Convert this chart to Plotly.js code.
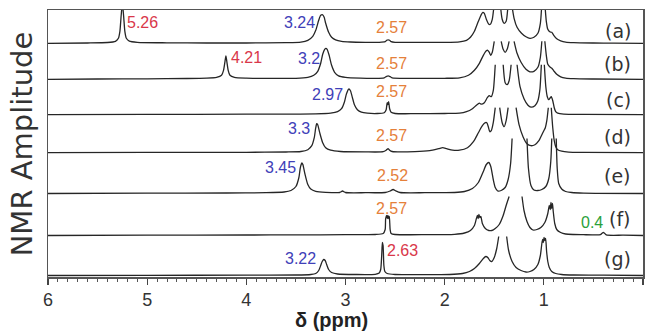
<!DOCTYPE html>
<html>
<head>
<meta charset="utf-8">
<script src="https://cdn.plot.ly/plotly-3.0.1.min.js"></script>
<style>html,body{margin:0;padding:0;background:#fff;}#chart{width:648px;height:333px;}</style>
</head>
<body>
<div id="chart"></div>
<script>
// Spectra: [chemical shift (ppm), amplitude above own baseline]; null = clipped peak top
const specA = [[6,0],[5.6,0.3],[5.4,0.8],[5.32,2],[5.29,5],[5.275,12],[5.262,28],[5.25,40],[5.238,28],[5.225,12],[5.21,5],[5.18,2.2],[5.1,1],[4.8,0.5],[4.4,0.3],[4.0,0.3],[3.6,0.6],[3.45,1.2],[3.38,3],[3.33,7],[3.30,13],[3.27,23],[3.25,28],[3.23,28.5],[3.215,26],[3.20,20],[3.17,11],[3.14,6],[3.10,3.5],[3.04,2],[2.95,1.3],[2.8,1],[2.66,1],[2.60,1.6],[2.585,3],[2.57,3.5],[2.555,3],[2.54,1.6],[2.5,1],[2.3,1],[2.0,1],[1.85,1.5],[1.78,3],[1.74,6],[1.70,12],[1.66,22],[1.63,29],[1.615,31],[1.60,30],[1.58,24],[1.555,19],[1.54,19],[1.52,24],[1.50,40],[1.47,null],[1.44,40],[1.42,24],[1.40,20],[1.38,22],[1.36,40],[1.345,null],[1.325,40],[1.30,25],[1.27,16],[1.225,10],[1.18,6.5],[1.14,5],[1.10,6],[1.06,10],[1.035,20],[1.02,40],[1.005,null],[0.99,40],[0.975,22],[0.96,14],[0.94,11.5],[0.92,11],[0.90,8],[0.87,4.5],[0.83,2.5],[0.78,1.2],[0.7,0.6],[0.5,0.3],[0.3,0.2],[0,0]];
const specB = [[6,0],[5.5,0.3],[5.0,0.5],[4.6,0.8],[4.4,1.2],[4.3,2],[4.25,4],[4.23,9],[4.215,18],[4.206,23.5],[4.197,18],[4.183,9],[4.165,4],[4.12,2],[4.0,1.2],[3.8,0.9],[3.5,1],[3.38,2],[3.32,4],[3.28,8],[3.25,16],[3.23,25],[3.21,30],[3.197,31],[3.185,30],[3.165,24],[3.14,14],[3.11,7],[3.07,3.5],[3.0,2],[2.85,1.2],[2.7,1],[2.61,1.5],[2.585,3],[2.57,3.5],[2.555,3],[2.53,1.4],[2.3,1],[2.0,1],[1.85,1.5],[1.76,4],[1.70,9],[1.65,16],[1.61,24],[1.58,28.5],[1.565,29],[1.55,27],[1.535,24],[1.52,27],[1.50,38],[1.465,null],[1.43,38],[1.41,30],[1.39,27],[1.37,30],[1.35,38],[1.325,null],[1.30,38],[1.27,26],[1.23,17],[1.18,10],[1.14,7.5],[1.10,8],[1.06,12],[1.035,22],[1.02,38],[1.005,null],[0.99,38],[0.975,24],[0.96,15],[0.935,12],[0.92,11],[0.90,8.5],[0.87,5],[0.83,2.5],[0.78,1.2],[0.7,0.6],[0.5,0.3],[0,0]];
const specC = [[6,0],[5,0.3],[4,0.5],[3.6,0.6],[3.3,0.8],[3.15,1.5],[3.08,3],[3.04,6],[3.01,13],[2.99,21],[2.966,25.7],[2.95,24],[2.93,17],[2.91,10],[2.88,5],[2.84,2.5],[2.78,1.5],[2.68,1.2],[2.61,2],[2.59,5],[2.58,12],[2.572,10],[2.565,13],[2.555,6],[2.54,2.5],[2.5,1.2],[2.3,1],[2.0,1.2],[1.85,1.5],[1.78,3],[1.72,6],[1.68,9.5],[1.65,11.5],[1.63,10.5],[1.60,12],[1.57,17],[1.55,19],[1.53,18],[1.51,24],[1.49,50],[1.45,null],[1.41,50],[1.39,32],[1.37,30],[1.35,34],[1.33,50],[1.30,null],[1.27,50],[1.24,28],[1.20,16],[1.16,9.5],[1.13,7.5],[1.09,9],[1.06,14],[1.04,25],[1.025,50],[1.01,null],[0.995,50],[0.98,28],[0.965,18],[0.95,15],[0.935,17],[0.925,18],[0.91,14],[0.895,7],[0.88,3],[0.86,1.5],[0.8,0.6],[0.6,0.3],[0,0]];
const specD = [[6,0],[5,0.3],[4,0.4],[3.6,0.7],[3.45,1.2],[3.38,3],[3.34,7],[3.315,15],[3.30,25],[3.29,29],[3.28,28],[3.26,20],[3.23,10],[3.20,5],[3.15,2.5],[3.05,1.2],[2.8,0.8],[2.62,1],[2.59,2.5],[2.57,4],[2.555,2.5],[2.53,1.2],[2.3,1],[2.15,2],[2.06,4],[2.02,5],[1.98,4],[1.92,2.5],[1.85,2.5],[1.77,5],[1.71,11],[1.66,20],[1.62,27],[1.59,30],[1.575,30],[1.56,26],[1.545,21],[1.53,22],[1.51,30],[1.49,45],[1.47,null],[1.445,45],[1.42,30],[1.40,26],[1.38,32],[1.36,45],[1.32,null],[1.28,45],[1.25,28],[1.21,16],[1.17,9],[1.13,7],[1.09,8],[1.05,12],[1.02,18],[1.0,22],[0.985,25],[0.97,32],[0.955,45],[0.94,null],[0.925,45],[0.91,25],[0.895,12],[0.88,6],[0.86,3],[0.82,1.5],[0.75,0.6],[0.6,0.3],[0,0]];
const specE = [[6,0],[5,0.3],[4.2,0.5],[3.8,0.8],[3.62,1.5],[3.55,3],[3.5,7],[3.47,16],[3.455,26],[3.44,30.5],[3.43,29],[3.41,20],[3.38,9],[3.35,4.5],[3.30,2.2],[3.20,1.2],[3.06,1],[3.03,2.5],[3.0,1],[2.8,0.8],[2.6,1],[2.55,2.5],[2.52,4],[2.49,2.5],[2.45,1],[2.2,0.8],[1.9,1],[1.8,2],[1.72,5],[1.66,11],[1.61,22],[1.58,29],[1.555,31],[1.535,27],[1.51,14],[1.49,6],[1.465,2.5],[1.43,3],[1.39,6],[1.36,14],[1.335,30],[1.32,55],[1.25,null],[1.17,55],[1.155,25],[1.13,8],[1.10,3.5],[1.06,3],[1.02,4],[0.98,7],[0.95,15],[0.93,32],[0.92,55],[0.9,null],[0.875,55],[0.865,25],[0.85,10],[0.82,4.5],[0.78,2],[0.72,1],[0.6,0.4],[0,0]];
const specF = [[6,0],[5,0.3],[4,0.5],[3.5,0.6],[3.0,0.8],[2.7,1],[2.62,2],[2.60,6],[2.595,17],[2.585,20],[2.578,17],[2.572,20],[2.565,17],[2.558,19],[2.55,6],[2.54,2],[2.5,1],[2.2,0.8],[1.9,1.2],[1.8,2.5],[1.74,5],[1.70,10],[1.68,17],[1.67,20],[1.662,17],[1.655,21],[1.645,18],[1.635,19],[1.62,12],[1.59,7],[1.555,5],[1.525,5],[1.49,7],[1.45,11],[1.41,20],[1.38,30],[1.35,39],[1.28,null],[1.22,39],[1.20,25],[1.17,14],[1.14,8],[1.11,5.5],[1.07,6],[1.03,8],[0.99,13],[0.96,22],[0.945,30],[0.935,26],[0.928,33],[0.92,27],[0.913,32],[0.905,24],[0.89,12],[0.87,6],[0.83,3],[0.78,1.5],[0.7,1],[0.6,0.8],[0.5,0.6],[0.43,0.8],[0.41,2.5],[0.40,3],[0.39,2.5],[0.37,0.6],[0.2,0.3],[0,0]];
const specG = [[6,0],[5,0.2],[4,0.3],[3.5,0.5],[3.35,1],[3.30,2],[3.27,5],[3.25,10],[3.235,14],[3.22,16],[3.205,15],[3.19,11],[3.17,6],[3.14,3],[3.08,1.5],[2.9,1],[2.7,1.2],[2.66,2.5],[2.645,6],[2.635,20],[2.628,33],[2.621,30],[2.613,10],[2.603,4],[2.58,2],[2.5,1],[2.2,0.8],[1.95,1],[1.82,2],[1.75,4],[1.70,7],[1.65,12],[1.61,17],[1.585,19],[1.565,18],[1.545,15],[1.525,14],[1.50,18],[1.475,27],[1.455,39],[1.41,null],[1.375,39],[1.355,25],[1.32,14],[1.28,8],[1.23,5],[1.18,3.5],[1.14,4],[1.10,6],[1.06,11],[1.035,20],[1.02,32],[1.012,36],[1.005,33],[0.998,38],[0.99,35],[0.982,37],[0.972,24],[0.96,14],[0.945,8],[0.92,4],[0.88,2],[0.82,1],[0.7,0.5],[0.4,0.3],[0,0]];

const spectra = [specA, specB, specC, specD, specE, specF, specG];
const traceLabels = ['(a)', '(b)', '(c)', '(d)', '(e)', '(f)', '(g)'];
const xTickVals = [6, 5, 4, 3, 2, 1, 0];

// peak labels: text, colour key
const peakText  = ['5.26','3.24','2.57','4.21','3.2','2.57','2.97','2.57','3.3','2.57','3.45','2.52','2.57','0.4','3.22','2.63'];
const peakColor = ['r','b','o','r','b','o','b','o','b','o','b','o','o','g','b','r'];

// ---- layout / positions (not data) ----
const baselines = [233.7, 197.7, 162.3, 124.3, 83.5, 41.5, 1.5];
const labelY = [246, 213, 177, 140, 101, 58, 18];
const peakPos = [ // [x ppm, y, xanchor]
  [5.22,255,'left'],[3.287,254.5,'right'],[2.541,250,'center'],
  [4.175,220,'left'],[3.237,219,'right'],[2.541,214,'center'],
  [3.005,183,'right'],[2.541,186,'center'],
  [3.338,149,'right'],[2.541,142,'center'],
  [3.479,110,'right'],[2.526,102,'center'],
  [2.541,69,'center'],[0.383,55,'right'],
  [3.277,19,'right'],[2.602,27,'left']
];
const colorMap = {r:'#d9374a', b:'#4040b8', o:'#e5803a', g:'#2aa03a'};

const traces = spectra.map((s, i) => ({
  x: s.map(p => p[0]),
  y: s.map(p => p[1] === null ? null : p[1] + baselines[i]),
  type: 'scatter', mode: 'lines',
  line: {color: '#262626', width: 1.3, shape: 'spline', smoothing: 0.6},
  connectgaps: false, hoverinfo: 'skip', showlegend: false
}));

const annotations = [];
traceLabels.forEach((t, i) => annotations.push({
  x: 0.1, y: labelY[i], xref: 'x', yref: 'y', text: t, showarrow: false,
  xanchor: 'right', yanchor: 'middle',
  font: {family: 'DejaVu Sans', size: 19, color: '#333'}
}));
peakText.forEach((t, i) => annotations.push({
  x: peakPos[i][0], y: peakPos[i][1], xref: 'x', yref: 'y', text: t, showarrow: false,
  xanchor: peakPos[i][2], yanchor: 'middle',
  font: {family: 'Liberation Sans', size: 16, color: colorMap[peakColor[i]]}
}));
annotations.push({
  x: -0.044, y: 0.5, xref: 'paper', yref: 'paper', text: 'NMR Amplitude', showarrow: false,
  textangle: -90, xanchor: 'center', yanchor: 'middle',
  font: {family: 'DejaVu Sans', size: 29, color: '#333'}
});
annotations.push({
  x: 0.476, y: -0.161, xref: 'paper', yref: 'paper', text: 'δ (ppm)', showarrow: false,
  xanchor: 'center', yanchor: 'middle',
  font: {family: 'Liberation Sans', size: 20, color: '#222', weight: 'bold'}
});

const layout = {
  width: 648, height: 333,
  margin: {l: 48, r: 5, t: 10, b: 56},
  paper_bgcolor: '#fff', plot_bgcolor: '#fff',
  xaxis: {
    range: [6, 0], showline: true, mirror: true, linecolor: '#555', linewidth: 1.5,
    ticks: 'outside', ticklen: 6, tickwidth: 1.2, tickcolor: '#444',
    tickvals: xTickVals, ticktext: xTickVals.map(String),
    tickfont: {family: 'Liberation Sans', size: 18, color: '#333'},
    minor: {dtick: 0.1, tick0: 0, ticks: 'outside', ticklen: 3, tickwidth: 1, tickcolor: '#555', showgrid: false},
    showgrid: false, zeroline: false
  },
  yaxis: {
    range: [0, 267], showline: true, mirror: true, linecolor: '#555', linewidth: 1.5,
    showticklabels: false, ticks: '', showgrid: false, zeroline: false, fixedrange: true
  },
  annotations: annotations
};

Plotly.newPlot('chart', traces, layout, {displayModeBar: false, staticPlot: true});
</script>
</body>
</html>
